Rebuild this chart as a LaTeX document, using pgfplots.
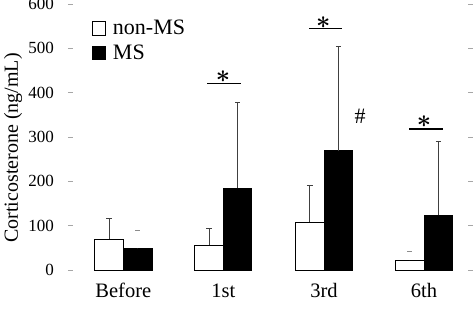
\documentclass[border=0pt]{standalone}
\usepackage{fontspec}
\setmainfont{Liberation Serif}
\usepackage{pgfplots}
\pgfplotsset{compat=1.18}
\newcommand\sigstar{{\fontsize{30}{32}\selectfont\boldmath$\ast$}}
\newcommand\hashsym{{\fontsize{22}{24}\selectfont\#}}
\begin{document}
\begin{tikzpicture}
\begin{axis}[
  scale only axis, width=399.5pt, height=270pt,
  xmin=-0.528, xmax=3.467, ymin=0, ymax=609,
  axis line style={draw=none},
  clip=false,
  xtick={0,1,2.007,3.007}, xticklabels={Before,1st,3rd,6th},
  xtick style={draw=none},
  xticklabel style={font=\fontsize{20.5}{24}\selectfont, anchor=base, yshift=-25pt},
  ytick={0,100,200,300,400,500,600},
  tick align=center,
  ytick style={draw=black!35, line width=0.6pt},
  major tick length=5pt,
  yticklabel style={font=\fontsize{17}{20}\selectfont, anchor=east, inner sep=0pt, xshift=-14pt},
  /pgf/number format/assume math mode=true,
  ylabel={Corticosterone (ng/mL)},
  ylabel style={at={(axis description cs:-0.144,0.452)}, anchor=center, font=\fontsize{20}{24}\selectfont},
  legend style={at={(axis cs:-0.313,568)}, anchor=north west, draw=none, fill=none, inner sep=0pt,
    font=\fontsize{22}{26}\selectfont, cells={anchor=west}, row sep=4pt,
    /tikz/every odd column/.append style={column sep=5pt}},
]
\addlegendimage{area legend, fill=white, draw=black, line width=0.8pt, legend image post style={xscale=0.76, yscale=2.3}}
\addlegendentry{non-MS}
\addlegendimage{area legend, fill=black, draw=black, line width=0.8pt, legend image post style={xscale=0.76, yscale=2.3}}
\addlegendentry{MS}
\addplot[forget plot, ybar, bar width=28.5pt, bar shift=0pt, fill=white, draw=black, line width=0.9pt,
  error bars/.cd, y dir=plus, y explicit,
  error bar style={line width=0.8pt, black!75},
  error mark options={rotate=90, mark size=3pt, line width=0.8pt, black!75}]
  table[x=x, y=y, y error plus=e] {
x y e
-0.1425 69 48
0.8575 56 38
1.8645 108 82
2.8645 22 0
};
\addplot[forget plot, ybar, bar width=28.5pt, bar shift=0pt, fill=black, draw=black, line width=0.9pt,
  error bars/.cd, y dir=plus, y explicit,
  error bar style={line width=0.8pt, black!75},
  error mark options={rotate=90, mark size=2.5pt, line width=0.8pt, black!75}]
  table[x=x, y=y, y error plus=e] {
x y e
0.1425 49 0
1.1425 184 194
2.1495 269 235
3.1495 123 168
};
\addplot[forget plot, ybar, bar width=28.5pt, bar shift=0pt, draw=black, fill=black,
  error bars/.cd, y dir=plus, y explicit,
  error bar style={line width=0.8pt, white},
  error mark options={rotate=90, mark size=2.5pt, line width=0.8pt, black!45}]
  table[x=x, y=y, y error plus=e] {
x y e
0.1425 49 40
};
\addplot[forget plot, ybar, bar width=28.5pt, bar shift=0pt, draw=black, fill=white, line width=0.9pt,
  error bars/.cd, y dir=plus, y explicit,
  error bar style={line width=0.8pt, white},
  error mark options={rotate=90, mark size=2.5pt, line width=0.8pt, black!45}]
  table[x=x, y=y, y error plus=e] {
x y e
2.8645 22 21
};
\draw[line width=1.2pt] (axis cs:0.837,421) -- (axis cs:1.177,421);
\draw[line width=1.2pt] (axis cs:1.857,544) -- (axis cs:2.187,544);
\draw[line width=1.2pt] (axis cs:2.857,318) -- (axis cs:3.197,318);
\addplot[forget plot, only marks, mark=*, mark size=0pt, mark options={draw=none, fill=none},
  nodes near coords={\sigstar},
  every node near coord/.append style={anchor=center, inner sep=0pt}]
  coordinates {(0.997,436) (2.0,558) (3.007,334)};
\addplot[forget plot, only marks, mark=*, mark size=0pt, mark options={draw=none, fill=none},
  nodes near coords={\hashsym},
  every node near coord/.append style={anchor=center, inner sep=0pt}]
  coordinates {(2.367,346)};
\end{axis}
\pgfresetboundingbox
\path[use as bounding box] ([xshift=-70.5pt,yshift=-43pt]current axis.south west) rectangle ([xshift=4pt]current axis.north east);
\end{tikzpicture}
\end{document}
